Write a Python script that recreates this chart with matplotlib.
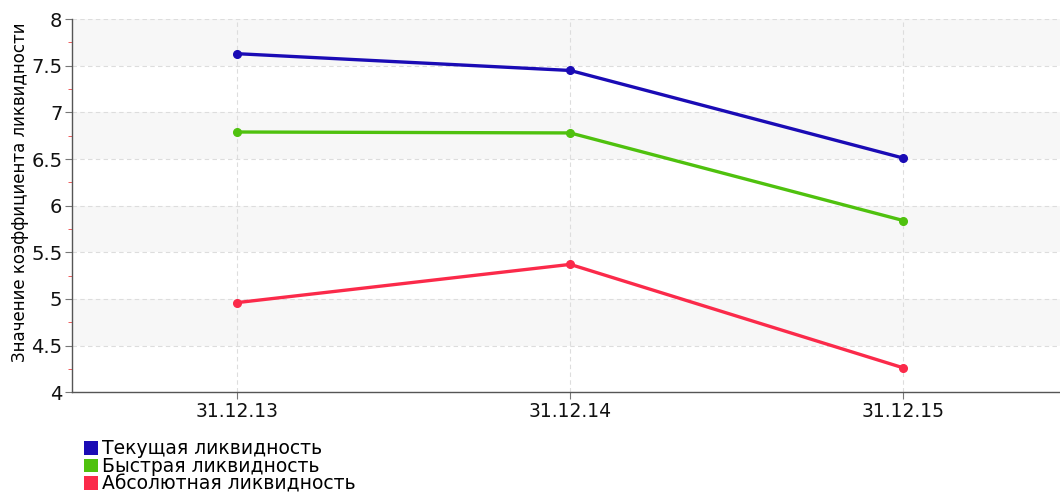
import matplotlib
matplotlib.use("Agg")
import matplotlib.pyplot as plt
from matplotlib.patches import Patch
from matplotlib.ticker import MultipleLocator

dates = ["31.12.13", "31.12.14", "31.12.15"]
current = [7.63, 7.45, 6.51]
quick = [6.79, 6.78, 5.84]
absolute = [4.96, 5.37, 4.26]
series_names = ["Текущая ликвидность", "Быстрая ликвидность", "Абсолютная ликвидность"]
colors = ["#1a0bb5", "#4fc10e", "#fb2a4a"]

fig = plt.figure(figsize=(10.6, 4.92), dpi=100)
ax = fig.add_axes([0.068, 0.203, 0.932, 0.758])

ymin, ymax = 4, 8
# alternating background bands
for lo in [4.5, 5.5, 6.5, 7.5]:
    ax.axhspan(lo, lo + 0.5, color="#f7f7f7", zorder=0, lw=0)

x = list(range(len(dates)))
for vals, c in zip([current, quick, absolute], colors):
    ax.plot(x, vals, color=c, lw=2.4, marker="o", ms=5.5, zorder=3,
            solid_capstyle="round")

ax.set_xlim(-0.495, 2.47)
ax.set_ylim(ymin, ymax)
ax.set_xticks(x)
ax.set_xticklabels(dates, fontsize=13.5)
ax.yaxis.set_major_locator(MultipleLocator(0.5))
ax.yaxis.set_minor_locator(MultipleLocator(0.25))
ax.set_yticklabels([f"{v:g}" for v in ax.get_yticks()], fontsize=14)

ax.grid(True, which="major", color="#dddddd", ls=(0, (4, 3)), lw=0.8, zorder=1)
for s in ["top", "right"]:
    ax.spines[s].set_visible(False)
for s in ["left", "bottom"]:
    ax.spines[s].set_color("#555555")
    ax.spines[s].set_linewidth(1.0)
ax.tick_params(axis="both", which="major", length=5, color="#777777", pad=2,
               labelcolor="#111111")
ax.tick_params(axis="y", which="minor", length=3, color="#ee4444")

ax.set_ylabel("Значение коэффициента ликвидности", fontsize=12)
ax.yaxis.set_label_coords(-0.044, 0.535)

handles = [Patch(facecolor=c, edgecolor="none") for c in colors]
fig.legend(handles, series_names, loc="lower left", bbox_to_anchor=(0.072, -0.019),
           frameon=False, fontsize=13.5, handlelength=0.75, handleheight=0.75,
           handletextpad=0.2, labelspacing=-0.07, borderaxespad=0)

fig.savefig("out.png", dpi=100)
